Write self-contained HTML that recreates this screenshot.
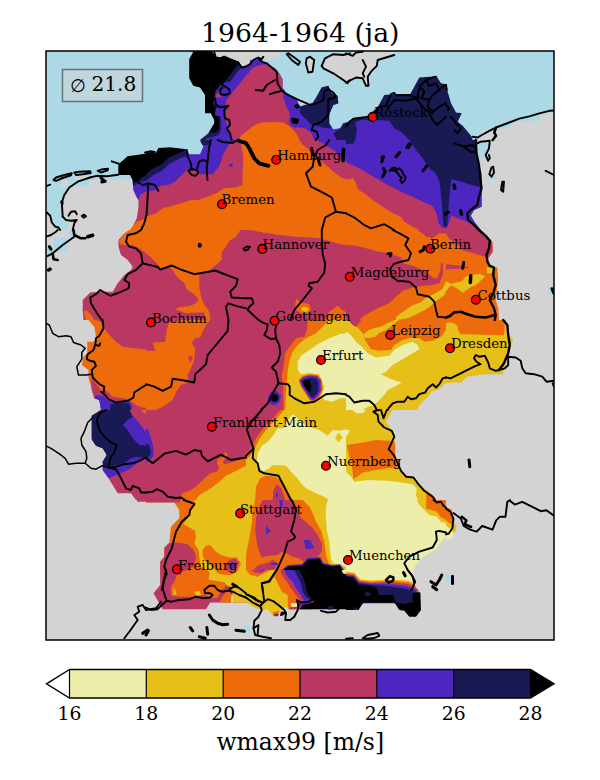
<!DOCTYPE html>
<html><head><meta charset="utf-8"><title>1964-1964 (ja)</title>
<style>
html,body{margin:0;padding:0;background:#fff;}
body{width:600px;height:780px;overflow:hidden;}
svg{display:block;}
text{font-family:"DejaVu Serif","Liberation Serif",serif;fill:#000;}
.b{fill:none;stroke:#000;stroke-width:1.9;stroke-linejoin:round;stroke-linecap:round;}
.c{fill:#f00;stroke:#000;stroke-width:1.3;}
.l{font-size:13.3px;}
</style></head><body>
<svg width="600" height="780" viewBox="0 0 600 780">
<rect width="600" height="780" fill="#fff"/>
<defs><clipPath id="fr"><rect x="46" y="51" width="508" height="589"/></clipPath>
<clipPath id="t0"><rect x="346" y="50" width="100" height="90"/></clipPath>
<clipPath id="t1"><rect x="446" y="50" width="108" height="90"/></clipPath>
<clipPath id="t2"><rect x="46" y="140" width="100" height="90"/></clipPath>
<clipPath id="t3"><rect x="146" y="140" width="100" height="90"/></clipPath>
<clipPath id="t4"><rect x="246" y="140" width="100" height="90"/></clipPath>
<clipPath id="t5"><rect x="346" y="140" width="100" height="90"/></clipPath>
<clipPath id="t6"><rect x="446" y="140" width="108" height="90"/></clipPath>
<clipPath id="t7"><rect x="46" y="230" width="100" height="90"/></clipPath>
<clipPath id="t8"><rect x="146" y="230" width="100" height="90"/></clipPath>
<clipPath id="t9"><rect x="246" y="230" width="100" height="90"/></clipPath>
<clipPath id="t10"><rect x="346" y="230" width="100" height="90"/></clipPath>
<clipPath id="t11"><rect x="446" y="230" width="108" height="90"/></clipPath>
<clipPath id="t12"><rect x="46" y="320" width="100" height="90"/></clipPath>
<clipPath id="t13"><rect x="146" y="320" width="100" height="90"/></clipPath>
<clipPath id="t14"><rect x="246" y="320" width="100" height="90"/></clipPath>
<clipPath id="t15"><rect x="346" y="320" width="100" height="90"/></clipPath>
<clipPath id="t16"><rect x="446" y="320" width="108" height="90"/></clipPath>
<clipPath id="t17"><rect x="46" y="410" width="100" height="90"/></clipPath>
<clipPath id="t18"><rect x="146" y="410" width="100" height="90"/></clipPath>
<clipPath id="t19"><rect x="246" y="410" width="100" height="90"/></clipPath>
<clipPath id="t20"><rect x="346" y="410" width="100" height="90"/></clipPath>
<clipPath id="t21"><rect x="446" y="410" width="108" height="90"/></clipPath>
<clipPath id="t22"><rect x="46" y="500" width="100" height="140"/></clipPath>
<clipPath id="t23"><rect x="146" y="500" width="100" height="90"/></clipPath>
<clipPath id="t24"><rect x="246" y="500" width="100" height="90"/></clipPath>
<clipPath id="t25"><rect x="346" y="500" width="100" height="90"/></clipPath>
<clipPath id="t26"><rect x="446" y="500" width="108" height="140"/></clipPath>
<clipPath id="t27"><rect x="0" y="0" width="0" height="0"/></clipPath>
<clipPath id="t28"><rect x="180" y="50" width="100" height="90"/></clipPath>
<clipPath id="t29"><rect x="250" y="50" width="100" height="90"/></clipPath>
<clipPath id="t30"><rect x="110" y="140" width="100" height="60"/></clipPath>
<clipPath id="t31"><rect x="146" y="575" width="100" height="65"/></clipPath>
<clipPath id="t32"><rect x="246" y="570" width="100" height="70"/></clipPath>
<clipPath id="t33"><rect x="346" y="570" width="100" height="70"/></clipPath>
<clipPath id="t34"><rect x="432" y="170" width="38" height="62"/></clipPath>
<clipPath id="t35"><rect x="428" y="228" width="34" height="24"/></clipPath>
<clipPath id="t36"><rect x="396" y="262" width="100" height="60"/></clipPath>
</defs>
<g clip-path="url(#fr)">
<rect x="46" y="51" width="508" height="589" fill="#add8e6"/>
<g clip-path="url(#t0)">
<rect x="345.7" y="49.7" width="100.6" height="90.6" fill="#add8e6"/>
<polygon fill="#d3d3d3" points="346,53.3 352.7,55.8 356,52.5 362.7,51.7 394.3,51.7 394.3,55 386,57.5 377.7,60 376.8,65.8 371,71.7 367.7,76.7 368.5,85.8 366,85.8 362.7,78.3 356,77.5 349.3,80.8 346,82.5"/>
<polygon fill="#191954" points="346,122.5 352.7,119.7 366,116.7 371,113.3 378.5,105.8 384.3,95 394.3,94.2 410.2,94.2 419.3,77.5 429.3,76.7 436.8,76.7 441,83.3 446,84.2 446,140 346,140"/>
<polygon fill="#4c26be" points="355.2,122 364.3,119.2 369.3,120.8 377.7,120 389.3,120.8 394.3,128.3 401,131.7 409.3,140 355.2,140 356.8,130"/>
</g>
<g clip-path="url(#t1)">
<rect x="445.7" y="49.7" width="108.6" height="90.6" fill="#add8e6"/>
<polygon fill="#191954" points="446,85 447.7,91.7 451,103.3 456,112.5 461.8,113.3 457.7,121.7 462.7,125.8 467.7,131.7 471.8,136.7 472.7,140 446,140"/>
<polygon fill="#d3d3d3" points="481.8,140 481.8,129.7 496,129.7 496,128.3 511,128.3 511,122 526,122 526,120.8 540.2,120.8 540.2,115.3 546,113.3 556,112 556,140"/>
</g>
<g clip-path="url(#t2)">
<rect x="45.7" y="139.7" width="100.6" height="90.6" fill="#add8e6"/>
<polygon fill="#d3d3d3" points="67.7,230 67.7,221.7 63.5,216.7 64,206.7 64,196.7 67.7,190 73.5,185.8 90.2,186.7 90.2,180 132.7,180 133.5,190 136.8,196.7 138.5,206.7 136.8,218.3 132.7,226.7 130.2,230"/>
<polygon fill="#d3d3d3" points="61,180.5 68.5,180.5 68.5,186.7 61,186.7"/>
<polygon fill="#d3d3d3" points="75.2,175.8 90.2,175.8 90.2,180 75.2,180"/>
<polygon fill="#d3d3d3" points="46,213.3 49.3,215 51.8,221.7 54.3,226.7 59.3,230 46,230"/>
<polygon fill="#ba3762" points="138.5,200 146,200 146,230 130.2,230 132.7,226.7 136.8,218.3 138.5,206.7"/>
<polygon fill="#ee6b0c" points="130.2,230 133.5,225 136.8,221.7 146,218.3 146,230"/>
</g>
<g clip-path="url(#t3)">
<rect x="145.7" y="139.7" width="100.6" height="90.6" fill="#ba3762"/>
<polygon fill="#ee6b0c" points="146,216.7 156,213.3 162.7,208.3 172.7,205.8 186,201.7 196,198.3 206,197.5 216,193.3 224.3,188.3 236,187.5 242.3,185 243.2,156.7 241.3,144.2 243.5,142.5 246,142.5 246,230 146,230"/>
<polygon fill="#4c26be" points="146,190.8 158.5,190 159.3,185.8 166,185.8 174.3,181.7 179.3,177.5 185.2,172.5 187.7,169.7 194.3,167.5 199.3,168.3 199.3,173.3 204.3,174.2 212.7,174.2 217.7,168.3 221.8,160 222.7,155 227.7,146.7 229.3,143.3 239.3,141.7 246,140 146,140"/>
<polygon fill="#4c26be" points="229,163.8 232.7,163.8 232.7,166.7 229,166.7"/>
<polygon fill="#191954" points="201,140 211,140 206,145.8 202.7,146.7"/>
</g>
<g clip-path="url(#t4)">
<rect x="245.7" y="139.7" width="100.6" height="90.6" fill="#ee6b0c"/>
<polygon fill="#ba3762" points="299.3,140 302.7,145 309.3,150 317.7,158.3 326,165 334.3,172.5 341,177.5 346,179.2 346,140"/>
<polygon fill="#4c26be" points="316,140 322.7,143.3 329.3,147.5 336,151.7 341,158.3 346,160.8 346,140"/>
</g>
<g clip-path="url(#t5)">
<rect x="345.7" y="139.7" width="100.6" height="90.6" fill="#4c26be"/>
<polygon fill="#191954" points="409.3,140 416,150 422.7,158.3 429.3,168.3 436,175 439.3,183.3 441,195 442.7,210 444.3,215 446,215.8 446,140"/>
<polygon fill="#191954" points="346,140 354.3,140 354.3,143.3 346,144.2"/>
<polygon fill="#ba3762" points="346,162.5 352.7,165 359.3,168.3 367.7,173.3 379.3,180 389.3,185.8 401,191.7 412.7,196.7 422.7,201.7 429.3,204.2 434.3,206.7 436,213.3 437.7,221.7 440.2,226.7 446,230 346,230"/>
<polygon fill="#ee6b0c" points="346,179.2 351,179.2 352.7,177.5 356,183.3 357.7,189.2 364.3,193.3 372.7,200 382.7,206.7 392.7,213.3 401,216.7 404.3,221.7 412.7,226.7 419.3,230 346,230"/>
</g>
<g clip-path="url(#t6)">
<rect x="445.7" y="139.7" width="108.6" height="90.6" fill="#d3d3d3"/>
<polygon fill="#191954" points="444,140 477.3,140 477.3,156.7 479,165 481.5,173.3 481.5,206.7 474,210 470.7,215.8 474.8,222.5 480.7,230 444,230"/>
<polygon fill="#4c26be" points="444,179.2 454,180 464,182.5 474,185.8 481.5,187.5 481.5,206.7 474,210 470.7,215.8 474.8,222.5 480.7,230 444,230"/>
<polygon fill="#ba3762" points="444,213.3 454,215.8 460.7,218.3 467.3,221.7 475.7,226.7 480.7,230 444,230"/>
<polygon fill="#add8e6" points="477.3,143.3 482.3,142.5 489.8,143.3 489.8,155.8 487.3,158.3 477.3,157.5"/>
<polygon fill="#add8e6" points="489.8,172.5 496.5,172.5 496.5,179.2 489.8,179.2"/>
</g>
<g clip-path="url(#t7)">
<rect x="45.7" y="229.7" width="100.6" height="90.6" fill="#d3d3d3"/>
<polygon fill="#add8e6" points="53.5,237.5 67.7,237.5 67.7,250.8 53.5,250.8"/>
<polygon fill="#add8e6" points="68.5,230 73.5,230 73.5,237.5 68.5,237.5"/>
<polygon fill="#add8e6" points="46,246.7 53.5,246.7 53.5,256.7 46,257.5"/>
<polygon fill="#ba3762" points="118.5,240 123.5,234.2 129.3,230 146,230 146,320 83.5,320 82.7,310 82.7,300 90.2,292.5 101,291.7 112.7,291.7 117.7,283.3 124.3,275 131,270 132.7,266.7 127.7,260 121,255 118.5,246.7"/>
<polygon fill="#ee6b0c" points="118.5,241.7 123.5,234.2 129.3,230 146,230 146,253.3 139.3,248.3 132.7,245 124.3,245 121,244.2"/>
<polygon fill="#ee6b0c" points="83.5,311.7 86,310 91,315 94.3,320 86,320"/>
</g>
<g clip-path="url(#t8)">
<rect x="145.7" y="229.7" width="100.6" height="90.6" fill="#ba3762"/>
<polygon fill="#ee6b0c" points="146,230 240.2,230 236,236.7 229.3,240.8 226,246.7 221.8,251.7 221.8,260 216,265 209.3,270.8 199.3,275 199.3,288.3 201,296.7 203.5,303.3 208.5,310 210.2,316.7 210.2,320 205.2,320 204.3,312.5 196,312.5 186,313.3 175.2,309.2 179.3,307 189.3,306.3 196,303.3 198.5,299.2 194.3,294.2 186.8,289.2 184.3,283.3 176.8,276.7 172.7,270 169.3,267.5 161,268.3 156,262.5 151,257.5 146,253.3"/>
</g>
<g clip-path="url(#t9)">
<rect x="245.7" y="229.7" width="100.6" height="90.6" fill="#ba3762"/>
<polygon fill="#ee6b0c" points="251,230 262.7,232.5 279.3,235 296,236.7 309.3,237.5 319.3,238.3 329.3,240.8 339.3,244.2 346,245 346,230"/>
<polygon fill="#ee6b0c" points="295.2,303.3 296.8,298.3 299.3,302.5 304.3,303 309.3,304.2 311,309.2 307.7,313.3 301,313.3 296,310"/>
<polygon fill="#e6bf19" points="301,307.5 306.8,306.7 309,309.7 306,312 301.8,310.8"/>
<polygon fill="#ee6b0c" points="329.3,311.7 337.7,305.8 341.8,310 346,311.7 346,320 324.3,320"/>
</g>
<g clip-path="url(#t10)">
<rect x="345.7" y="229.7" width="100.6" height="90.6" fill="#ee6b0c"/>
<polygon fill="#ba3762" points="346,245 356,245.8 366,248.3 379.3,251.7 389.3,253.3 401,257.5 403.5,263.3 412.7,265.8 424.3,270.8 432.7,277.5 436.8,278.3 440.2,271.7 441,263.3 443,263.3 442.7,275 439.3,283.3 432.7,285 422.7,285.8 412.7,287.5 402.7,290.8 396,296.7 389.3,303.3 379.3,307.5 371,311.7 362.7,316.7 359.3,320 346,320"/>
<polygon fill="#ba3762" points="417.7,230 424.3,235 431,240 439.3,241.7 446,240 446,230"/>
</g>
<g clip-path="url(#t11)">
<rect x="445.7" y="229.7" width="108.6" height="90.6" fill="#d3d3d3"/>
<polygon fill="#ee6b0c" points="444,230 479,230 485.7,235 492.3,241.7 492.7,251.7 488.2,258.3 489.8,265.8 497.3,267.5 498.2,280 495.7,300 498.2,308.3 499,320 444,320"/>
<polygon fill="#ba3762" points="444,230 479,230 485.7,235 492.3,241.7 492.7,251.7 488.2,258.3 485.7,256.7 479,255 470.7,252.5 460.7,250 454,249.2 444,248.3"/>
<polygon fill="#ba3762" points="444,264.2 454,265 464,266.3 469.8,267.5 460.7,268.7 444,269.2"/>
<polygon fill="#e6bf19" points="486.5,267.5 495.7,267.5 493.2,272.5 487.3,273.7"/>
<polygon fill="#add8e6" points="548.2,286.7 554,286.7 554,295 548.2,295"/>
</g>
<g clip-path="url(#t12)">
<rect x="45.7" y="319.7" width="100.6" height="90.6" fill="#d3d3d3"/>
<polygon fill="#ee6b0c" points="88.5,320 94.3,326.7 96,336.7 94.3,341.7 87.3,341.7 87.3,353.3 83.5,356.7 81.8,365 88.5,370 88.5,377.5 91,386.7 92.7,393.3 94.3,398.3 99.3,400 101,406.7 101,410 146,410 146,320"/>
<polygon fill="#ba3762" points="96,320 100.2,321.7 103.5,326.7 109.3,335 116,341.7 122.7,346.7 132.7,348.3 146,349.2 146,320"/>
<polygon fill="#ba3762" points="91,378.3 94.3,381.7 101,390 106.8,390.8 112.7,396.7 122.7,398.3 129.3,400 136,405 142.7,407.5 146,407.5 146,410 101,410 99.3,400 94.3,398.3 91.8,390"/>
<polygon fill="#4c26be" points="94.3,398.3 96,395 102.7,395.8 107.7,400 112.7,401.7 129.3,401.7 132.7,406.7 131,410 101,410 99.3,400"/>
<polygon fill="#191954" points="110.2,410 110.2,405 114.3,403.3 129.3,403.3 131,410"/>
</g>
<g clip-path="url(#t13)">
<rect x="145.7" y="319.7" width="100.6" height="90.6" fill="#ba3762"/>
<polygon fill="#ee6b0c" points="146,350.8 155.2,350.8 152.7,342.5 165.2,341.7 166.8,330 168.5,323.3 181,320 210.2,320 206,325 202.7,331.7 200.2,337.5 195.2,338.3 191.8,342.5 195.2,349.2 194.3,360 189.3,371.7 187.7,375 187.7,382.5 181,385 176,391.7 172.7,400 162.7,406.7 156,410 146,410"/>
<polygon fill="#ba3762" points="188.5,355.8 192.7,356.3 192.3,360 190.2,361.7 188.5,359.2"/>
</g>
<g clip-path="url(#t14)">
<rect x="245.7" y="319.7" width="100.6" height="90.6" fill="#ba3762"/>
<polygon fill="#ee6b0c" points="307.7,320 306.8,330 304.3,336.7 296,338.3 291,345 285.2,353.3 283.5,366.7 281.8,375 283,386.7 283.5,410 346,410 346,320"/>
<polygon fill="#e6bf19" points="329.3,320 322.7,326.7 316,333.3 306,338.3 297.7,345 292.7,351.7 289.7,360 287.7,370 286.8,383.3 286,393.3 285.2,410 346,410 346,320"/>
<polygon fill="#eeeeab" points="346,333.3 339.3,334.2 329.3,338.3 319.3,343.3 309.3,350 301,355.8 297.7,361.7 297.7,370 301,374.2 309.3,373 319.3,374.2 321.8,380.8 324.3,386.7 321.8,395 324.3,400 332.7,401.7 339.3,398.3 346,398.3"/>
<polygon fill="#ee6b0c" points="298.5,380 302.7,375.8 309.3,374.2 317.7,375 321.8,380 322.7,390 319.3,396.7 314.3,401.7 310.2,400.8 305.2,393.3 301,386.7"/>
<polygon fill="#ba3762" points="299.3,380.3 303,376.7 309.3,375 317.3,375.8 321,380.3 321.7,390 318.5,396.3 314,400.7 310.2,399.7 305.7,392.7 301.3,386.3"/>
<polygon fill="#4c26be" points="300.2,380.8 303.5,377.5 309.3,375.8 316.8,376.7 320.2,380.8 320.7,390 317.7,395.8 313.5,399.7 310.2,398.3 306,391.7 301.8,385.8"/>
<polygon fill="#191954" points="301.8,381.3 304.3,379.2 310.2,378 316,378.7 318,382.5 318.5,390 316,395 312.7,398 310.2,395.8 306.8,390 303.5,385"/>
<polygon fill="#000000" points="302,381.3 309.3,379.7 311.3,386.7 310.2,392.5 306.8,389.7 304,385.3"/>
<polygon fill="#4c26be" points="267.7,397.5 271,391.7 276.8,390.8 281,395.8 279.3,402.5 275.2,405.3 270.2,404.2"/>
<polygon fill="#191954" points="270.2,397.5 272.7,394.2 276.8,393.3 279,396.7 277.7,401.3 273.5,402.5 271,400.8"/>
<polygon fill="#000000" points="271,397.7 275.2,394.3 278.3,397 277.3,400.7 273.2,401.7"/>
</g>
<g clip-path="url(#t15)">
<rect x="345.7" y="319.7" width="100.6" height="90.6" fill="#e6bf19"/>
<polygon fill="#eeeeab" points="346,331.7 351,335 356,341.7 362.7,347.5 367.7,353.3 376,357.5 389.3,355.8 394.3,350 402.7,345 412.7,341.7 417.7,345 419.3,349.2 412.7,353.3 404.3,358.3 392.7,365 386,371.7 381,374.2 389.3,378.3 396,380.8 401.8,382.5 394.3,386.7 387.7,390 384.3,395 379.3,400 374.3,405 367.7,406.7 362.7,410 346,410"/>
<polygon fill="#ee6b0c" points="349.3,320 352.7,325 357.7,327.5 362.7,333.3 366,341.7 371,349.2 379.3,350.8 391,350 394.3,345 402.7,340 412.7,337.5 419.3,338.3 424.3,341.7 432.7,340.8 441,336.7 446,330 446,320"/>
<polygon fill="#e6bf19" points="363.5,334.2 367.7,330.8 373.5,328.3 381,326.7 387.7,323.3 394.3,320 399.3,320 392.7,325 386,330 379.3,333 375.2,336.7 369.3,338.3 364.3,337.5"/>
<polygon fill="#ba3762" points="348.5,320 352.7,325 356,326.7 360.2,321.7 361,320"/>
<polygon fill="#d3d3d3" points="446,382.5 439.3,389.2 431,391.7 428.5,396.7 424.3,400 419.3,405.8 416.8,410 446,410"/>
</g>
<g clip-path="url(#t16)">
<rect x="445.7" y="319.7" width="108.6" height="90.6" fill="#d3d3d3"/>
<polygon fill="#e6bf19" points="444,320 505.7,320 506.5,330 509.8,335.8 513.2,340.8 509.8,346.7 507.3,358.3 504,368.3 503.2,374.2 484,374.2 475.7,375.8 466.5,376.7 461.5,382.5 454,382.5 444,383.3"/>
<polygon fill="#ee6b0c" points="446,320 446,323.3 449,322.5 454,323 457.3,325.8 458.2,330 460.7,334.2 470.7,334.2 487.3,335 504,335.3 504.8,326.7 504,320"/>
</g>
<g clip-path="url(#t17)">
<rect x="45.7" y="409.7" width="100.6" height="90.6" fill="#d3d3d3"/>
<polygon fill="#ba3762" points="101,410 96,413.3 91.8,415.8 91.8,439.2 96,445.8 102.7,448.3 106.8,455 102.7,461.7 102.7,470 108.5,478.3 117.7,493.3 131,493.3 136,500 146,500 146,410"/>
<polygon fill="#4c26be" points="101,410 91.8,415.8 91.8,439.2 96,445.8 102.7,448.3 106.8,455 102.7,461.7 102.7,470 108.5,478.3 121,473.3 129.3,469.2 139.3,461.7 146,458.3 146,431.7 141.8,426.7 136.8,420 131.8,415 129.3,410"/>
<polygon fill="#191954" points="101,410 91.8,415.8 91.8,439.2 96,445.8 102.7,448.3 106.8,455 102.7,461.7 103.5,465.8 112.7,465.8 124.3,463.3 131,458.3 136,456.7 146,458.3 146,445.8 139.3,445 132.7,438.3 127.7,430 122.7,425 127.7,420 132.7,416.7 129.3,410"/>
<polygon fill="#ee6b0c" points="141,410 146,410 146,413.3 143.5,412.5"/>
</g>
<g clip-path="url(#t18)">
<rect x="145.7" y="409.7" width="100.6" height="90.6" fill="#ba3762"/>
<polygon fill="#4c26be" points="146,428.3 148.5,430 151,438.3 153.5,448.3 153.5,456.7 149.3,460.8 146,461.7"/>
<polygon fill="#191954" points="146,443.3 149.3,445.8 151,452.5 148.5,457.5 146,458.3"/>
<polygon fill="#ee6b0c" points="181,500 181.8,493.3 189.3,490.8 196,486.7 202.7,480 210.2,473.3 216.8,471.7 219.3,467.5 216.8,463.3 217.7,459.2 223.5,456.7 225.2,451.7 227.7,454.2 226,458.3 222.7,461.7 224.3,464.2 231,462.5 239.3,460 246,457.5 246,500"/>
<polygon fill="#e6bf19" points="196,500 199.3,495 209.3,489.2 217.7,483.3 226,475.8 232.7,472.5 239.3,469.2 246,465.8 246,500"/>
</g>
<g clip-path="url(#t19)">
<rect x="245.7" y="409.7" width="100.6" height="90.6" fill="#e6bf19"/>
<polygon fill="#eeeeab" points="346,429.2 339.3,430.8 332.7,430 327.7,435.8 319.3,430 312.7,428.3 306,425.8 296,416.7 292.7,414.2 287.7,420 283.5,428.3 277.7,428.3 273.5,435 267.7,441.7 261.8,445.8 257.7,453.3 256.8,460 258.5,466.7 262.7,471.7 269.3,468.3 272.7,465 286,465.8 291,471.7 296,476.7 301,483.3 306,488.3 316,493.3 324.3,496.7 329.3,500 346,500"/>
<polygon fill="#e6bf19" points="335.2,437.5 338.5,432.5 342.7,437.5 338.5,442.5"/>
<polygon fill="#ee6b0c" points="246,410 284,410 277.7,417.5 271,424.2 265.2,430.8 259.3,439.2 255.2,447.5 251,455 246,460"/>
<polygon fill="#ba3762" points="246,410 280.2,410 274.3,416.7 267.7,423.3 261.8,430 256,438.3 252.7,445.8 246,455"/>
<polygon fill="#ee6b0c" points="255.2,500 256,486.7 260.2,478.3 266,475.8 275.2,476.7 281.8,481.7 286,490 290.2,500"/>
<polygon fill="#ba3762" points="272.7,500 273.5,490 276.8,484.2 281,488.3 283.5,495 285.2,500"/>
<polygon fill="#4c26be" points="276,493 277.7,493 277.7,497.5 276,497.5"/>
</g>
<g clip-path="url(#t20)">
<rect x="345.7" y="409.7" width="100.6" height="90.6" fill="#d3d3d3"/>
<polygon fill="#e6bf19" points="346,410 392.7,410 386,421.7 394.3,433.3 395.2,460 401,471.7 412.7,477.5 417.7,483.3 432.7,495 434.3,500 346,500"/>
<polygon fill="#eeeeab" points="346,429.2 350.2,430.8 346,436.7"/>
<polygon fill="#eeeeab" points="352.7,410 366,410 362.7,413.3 356,413.3"/>
<polygon fill="#eeeeab" points="346,471.7 351,476.7 354.3,481.7 367.7,480 387.7,480.8 401,482.5 412.7,484.2 416.8,488.3 416,495 417.7,500 346,500"/>
<polygon fill="#ee6b0c" points="346.8,445 362.7,442.5 376,440 389.3,440.8 395.2,442.5 395.2,460 398.5,467.5 387.7,468.3 376,470 362.7,472.5 353.5,479.2 351.8,465 348.5,453.3"/>
<polygon fill="#ee6b0c" points="426.2,497.5 426,493 432.5,495 436,500.5 426.2,500.5"/>
</g>
<g clip-path="url(#t21)">
<rect x="445.7" y="409.7" width="108.6" height="90.6" fill="#d3d3d3"/>
</g>
<g clip-path="url(#t22)">
<rect x="45.7" y="499.7" width="100.6" height="140.6" fill="#d3d3d3"/>
<polygon fill="#ba3762" points="137,500 146,500 146,501.7 137,501.7"/>
</g>
<g clip-path="url(#t23)">
<rect x="145.7" y="499.7" width="100.6" height="90.6" fill="#d3d3d3"/>
<polygon fill="#e6bf19" points="146,502.5 174.3,502.5 179.3,510 179.3,518.3 171,526.7 169.3,543.3 164.3,547.5 164.3,556.7 160.2,561.7 160.2,590 246,590 246,500 146,500"/>
<polygon fill="#ee6b0c" points="174.3,502.5 179.3,500 194.3,500 196,504.2 190.2,511.7 187.7,518.3 183.5,524.2 189.3,527.5 195.2,530.8 196,537.5 194.3,543.3 198.5,550 199.3,556.7 201,566.7 209.3,571.7 210.2,580 207.7,590 160.2,590 160.2,561.7 164.3,556.7 164.3,547.5 169.3,543.3 171,526.7 179.3,518.3 179.3,510"/>
<polygon fill="#ee6b0c" points="202.7,550 206,545.8 210.2,545 216,551.7 221,555 229.3,557.5 236.8,557.5 241,563.3 237.7,570.8 231.8,574.7 224.3,575 217.7,573.3 212.7,566.7 206,561.7 202.7,556.7"/>
<polygon fill="#ee6b0c" points="212.7,583.3 219.3,580 227.7,580.8 232.7,584.2 236,590 209.3,590"/>
<polygon fill="#ba3762" points="164.3,548.3 168.5,543.3 179.3,542.5 187.7,544.2 193.7,550 196.2,557.5 193.7,566.2 187.5,570 182.5,571.2 180,576.2 173.7,585 171.8,590 160.2,590 160.2,561.7 164.3,556.7"/>
<polygon fill="#ba3762" points="226,564.2 229.3,560 235.2,558.3 238.5,562.5 236.8,568.3 232.7,572.5 227.7,571.7 225.7,567.5"/>
<polygon fill="#4c26be" points="229,564.2 232.7,561.7 236,563.3 234.3,568.3 230.2,569.2"/>
<polygon fill="#ba3762" points="214.3,590 217.7,585 224.3,584.2 227.7,590"/>
<polygon fill="#ba3762" points="146,500 181,500 179.3,502.5 146,502.5"/>
</g>
<g clip-path="url(#t24)">
<rect x="245.7" y="499.7" width="100.6" height="90.6" fill="#e6bf19"/>
<polygon fill="#eeeeab" points="327.7,500 326,506.7 325.7,516.7 326.8,530 329.3,541.7 330.2,551.7 331,560 333.5,563.3 339.3,564.2 346,566.7 346,500"/>
<polygon fill="#ee6b0c" points="255.2,500 252.7,510 251.8,523.3 249.3,538.3 246.8,550 246,556.7 246,570 251,573.3 257.7,576.7 264.3,578.3 271,575 275.2,571.7 277.7,573.3 279.3,583.3 281,590 296,590 294.3,578.3 301,573.3 304.3,566.7 309.3,563.3 319.3,562.5 324.3,566.7 329.3,565 326,555 324.3,541.7 321,530 316,521.7 312.7,513.3 309.3,506.7 302.7,500"/>
<polygon fill="#ba3762" points="262.7,500 259.3,506.7 256,518.3 255.2,530 256.8,543.3 259.3,551.7 261.8,557.5 269.3,555.8 277.7,555 281.8,551.7 286,553.3 292.7,556.7 299.3,558.3 303.5,561.7 307.7,557.5 317.7,556.7 321.8,551.7 321.8,543.3 317.7,535 312.7,528.3 306,521.7 301,518.3 297.7,510 292.7,500"/>
<polygon fill="#ba3762" points="254.3,568.3 258.5,565 266,563.3 272.7,560 277.7,562.5 276.8,566.7 271,571.7 264.3,574.2 256.8,573.3"/>
<polygon fill="#ba3762" points="279.3,573.3 281.8,570 286,574.2 291,580 296,590 287.7,590 281.8,581.7"/>
<polygon fill="#4c26be" points="266,525.8 271,531.7 266,534.2"/>
<polygon fill="#4c26be" points="303.5,540 310.2,540 314.3,548.3 306,549.2"/>
<polygon fill="#4c26be" points="279.3,500 282.7,500 282.7,507.5 280.2,506.7"/>
<polygon fill="#4c26be" points="271,563 277.7,563 277.7,565 271,565"/>
<polygon fill="#4c26be" points="260.2,570.8 266.8,570 266.8,572 261,572.5"/>
<polygon fill="#4c26be" points="281.8,570 287.7,565 301.8,564.2 307.7,557.5 320.2,557.2 323.5,563.3 332.7,565 340.2,564.2 344.3,570 346,571.7 346,590 296,590 293.5,581.7 287.7,576.7 282.7,573.3"/>
<polygon fill="#191954" points="283.5,569.7 288.5,566 302.3,565.2 308,558.8 319.7,558.3 322.7,563.8 332.7,566 339.7,565.2 343.5,570.8 346,573.3 346,590 299.3,590 297.7,580 288.5,575.3 284,572.5"/>
<polygon fill="#000000" points="285.2,568.3 289.3,566.7 302.7,565.8 308.5,560 319.3,559.2 321.8,564.2 324.3,565.8 332.7,566.7 339.3,565.8 342.7,571.7 346,574.2 346,590 305.2,590 304.3,581.7 297.7,575.8 289.3,574.2 285.2,571.7"/>
</g>
<g clip-path="url(#t25)">
<rect x="345.7" y="499.7" width="100.6" height="90.6" fill="#eeeeab"/>
<polygon fill="#d3d3d3" points="446,535.8 441,541.7 436.8,548.3 429.3,553.3 421,558.3 416,565 412.7,571.7 414.3,578.3 416,590 446,590"/>
<polygon fill="#e6bf19" points="416.8,500 419.3,505 424.3,510 429.3,515 436.8,516.7 441,521.7 446,523.3 446,500"/>
<polygon fill="#ee6b0c" points="426.2,500 426.2,508.7 436.2,511.2 441.2,517.5 446,520 446,500"/>
<polygon fill="#e6bf19" points="346,571.7 354.3,573.3 360.2,580 371,581.7 384.3,580.8 396,580 409.3,580.8 414.3,583.3 416,590 346,590"/>
<polygon fill="#ee6b0c" points="346,572.8 354,574.3 359.7,581 371,582.7 384.3,582 396,581.3 408.5,582 413.5,584.7 415.2,590 346,590"/>
<polygon fill="#ba3762" points="346,573.7 353.7,575.2 359.3,581.8 371,583.5 384.3,583 396,582.5 407.7,583.3 412.7,585.8 414.3,590 346,590"/>
<polygon fill="#4c26be" points="346,574.5 353.5,575.8 359,582.7 371,584.3 384.3,584.2 396,584.2 406.8,585 411.8,587.5 412.7,590 346,590"/>
<polygon fill="#191954" points="346,575.3 353.3,576.3 358.7,583.3 370.2,585 384.3,585.8 396,586.3 406,587.5 410.2,590 346,590"/>
<polygon fill="#000000" points="346,576.2 353,577 358,584.2 369.3,585.8 379.3,588.3 381,590 346,590"/>
</g>
<g clip-path="url(#t26)">
<rect x="445.7" y="499.7" width="108.6" height="140.6" fill="#d3d3d3"/>
<polygon fill="#ee6b0c" points="446,507.4 451.6,509.3 453.4,518.6 452.5,527.9 446,524.2"/>
<polygon fill="#e6bf19" points="446,520.4 450.6,524.2 456.2,524.2 456.2,530.7 451.6,535.3 446,535.3"/>
<polygon fill="#eeeeab" points="446,526 449.7,527.9 453.4,532.5 451.6,539 446,540"/>
<polygon fill="#add8e6" points="446,575.3 451.6,575.3 451.6,581.8 446,581.8"/>
</g>
<g clip-path="url(#t27)">
<rect x="-0.3" y="-0.3" width="0.6" height="0.6" fill="#add8e6"/>
</g>
<g clip-path="url(#t28)">
<rect x="179.7" y="49.7" width="100.6" height="90.6" fill="#ba3762"/>
<polygon fill="#ee6b0c" points="241.7,135 248.3,130 256.7,125 263.3,122.5 270,122.5 280,124.2 280,140 238.3,140"/>
<polygon fill="#4c26be" points="252.5,60.3 263.3,65.8 253.3,68.3 246.7,75 235,89.2 231.7,93.3 226.7,100 225,106.7 225,116.7 228.3,130 230,136.7 231.7,140 196.7,140 196.7,50 252.5,50"/>
<polygon fill="#ba3762" points="215.8,93.7 221.7,93.7 221.7,97.5 215.8,97.5"/>
<polygon fill="#191954" points="239.2,63 242,66.7 237.5,71.7 230,81.7 224.2,82.8 220.8,85.8 217.5,90 196.7,90 196.7,50 239.2,50"/>
<polygon fill="#191954" points="213.3,103.7 220,105 220,108 214.2,108"/>
<polygon fill="#191954" points="215.3,115.8 220.8,116.7 220.8,130 218.3,135 213.3,136.7 206.7,138.3 205,140 196.7,140 196.7,115.8"/>
<polygon fill="#000000" points="193.3,51.7 212.5,51.7 215.8,57.5 224.2,56.7 230,59.2 238.3,62.5 235,65.8 225,78.3 220,84.2 215.8,90.8 214.2,98.3 213.3,105 215.8,107.5 215,115 219.2,116.7 219.2,128.3 215.8,132.5 209.2,132.5 196.7,140 180,140 180,50"/>
<polygon fill="#add8e6" points="180,50 193.3,51.7 189.2,59.2 189.2,78.3 193.3,85.8 200,87.5 205,95 205,113.3 210.8,113.3 214.2,120 214.2,123.3 208.3,133.3 200,140 180,140"/>
<polygon fill="#d3d3d3" points="212.5,51.7 215.8,57.5 224.2,56.7 230,59.2 238.3,62.5 242.5,66.7 248.3,64.2 251.7,60.3 258.3,57.5 263.3,55 265,51.7 265,50 212.5,50"/>
</g>
<g clip-path="url(#t29)">
<rect x="249.7" y="49.7" width="100.6" height="90.6" fill="#add8e6"/>
<polygon fill="#d3d3d3" points="250,50 280.8,50 279.2,58.3 275,60 268.3,60.8 263.3,57.5 258.3,57.5 251.7,60.3 250,60.3"/>
<polygon fill="#4c26be" points="250,60 255,60 260,58.3 263.3,62.5 268.3,65 275,68.3 279.2,73.3 282.5,79.2 282.5,87.5 286.7,93.3 296.7,99.2 300,106.7 305,105 312.5,103.3 315.8,98.3 321.7,87.5 328.3,85.8 331.7,93.3 337.5,95.8 338.3,103.3 333.3,105 329.2,114.2 329.2,123.3 333.3,129.2 340,128.3 343.3,123.3 350,121.7 350,140 250,140"/>
<polygon fill="#ba3762" points="250,70 255,66.7 263.3,64.2 268.3,65 275,68.3 279.2,73.3 282.5,79.2 282.5,88.3 283.3,96.7 285.8,105 289.2,111.7 290,116.7 288.7,120.8 290,125 294.2,127.5 300,127.5 305,128.3 311.7,133.3 314.2,140 250,140"/>
<polygon fill="#ee6b0c" points="250,128.3 255,125 261.7,122.5 271.7,122 283.3,122.5 290,126.7 295,131.7 298.3,136.7 299.2,140 250,140"/>
<polygon fill="#191954" points="300,106.7 305,105 312.5,103.3 315.8,98.3 321.7,87.5 328.3,85.8 331.7,93.3 337.5,95.8 338.3,103.3 333.3,105 329.2,114.2 329.2,123.3 331.7,128.3 325,128.3 316.7,125.8 311.7,125 306.7,120 300,113.3"/>
<polygon fill="#191954" points="340.8,128.3 343.3,123.3 350,121.7 350,140 336.7,140 333.3,133.3"/>
<polygon fill="#d3d3d3" points="296.7,99.2 307.5,104.2 300,104.2"/>
<polygon fill="#d3d3d3" points="305.8,63.3 308.3,72.5 312.5,71.7 314.2,60 310,56.7 306.7,58.3"/>
<polygon fill="#d3d3d3" points="321.7,65.8 325,58.3 333.3,54.2 343.3,55 350,53.3 350,80 347.5,83.3 343.3,80 333.3,73.3 323.3,68.3"/>
</g>
<g clip-path="url(#t30)">
<rect x="109.7" y="139.7" width="100.6" height="60.6" fill="#add8e6"/>
<polygon fill="#ba3762" points="118.3,164.2 122.5,160.8 127.5,156.3 145,153.7 155.8,153 158.3,148 170,147.2 183.3,148.7 187,149.7 189.2,154.2 200,154.2 203.3,146.7 200.8,142.5 200,140 210,140 210,200 138.3,200 136.7,197.5 133.3,190 132.5,180 130,175 118.3,175"/>
<polygon fill="#ee6b0c" points="198.3,200 203.3,198 210,195.8 210,200"/>
<polygon fill="#4c26be" points="140,195 145,191.7 156.7,190 160,185.8 168.3,185 175,181.7 181.7,175 186.7,170 191.7,168.7 197.5,169.7 200,174.2 210,174.2 210,140 110,140 110,200 138.3,200"/>
<polygon fill="#191954" points="134.2,185.8 140,181.7 146.7,180.8 153.3,175 161.7,170.8 170,163.3 180,158.3 185.8,156.3 188.3,151.7 187,149.7 110,140 110,185.8"/>
<polygon fill="#191954" points="200.8,140 210,140 210,145 203.3,145 201.3,142.5"/>
<polygon fill="#000000" points="118.3,164.2 122.5,160.8 127.5,156.3 145,153.7 155.8,153 158.3,148 170,147.2 183.3,148.7 187,149.7 178.3,153.3 168.3,158 161.7,164.2 151.7,169.2 145,175.8 138.3,180 133.3,183 130,175 118.3,175"/>
<polygon fill="#add8e6" points="110,140 200,140 200.8,142.5 203.3,146.7 200,154.2 189.2,154.2 187,149.7 183.3,148.7 170,147.2 158.3,148 155.8,153 145,153.7 127.5,156.3 122.5,160.8 118.3,164.2 118.3,175 130,175 132.5,180 110,180"/>
<polygon fill="#d3d3d3" points="110,180 132.5,180 133.3,190 136.7,197.5 138.3,200 110,200"/>
<polygon fill="#d3d3d3" points="145,152.5 150,151.3 154.7,152 150,153.7"/>
</g>
<g clip-path="url(#t31)">
<rect x="145.7" y="574.7" width="100.6" height="65.6" fill="#d3d3d3"/>
<polygon fill="#ba3762" points="160.2,570 160.2,585 153.5,593.3 162.7,609.2 206,609.2 210.2,602.5 246,602.5 246,570"/>
<polygon fill="#ee6b0c" points="177.7,570 209.3,570 208.5,580 214.3,580.8 224.3,582.5 226,585.8 220.2,591.7 217.7,597.5 212.7,598.3 204.3,595 196,597.5 189.3,596.7 179.3,596.7 171,595.8 171,586.7 175.2,580"/>
<polygon fill="#ee6b0c" points="219.3,602.5 222.7,596.7 227.7,590 229.3,586.7 232.7,602.5"/>
<polygon fill="#e6bf19" points="209.3,570 208.5,580 214.3,580.8 224.3,582.5 226.8,585.8 231,586.7 232.7,595 231,602.5 246,602.5 246,570"/>
<polygon fill="#e6bf19" points="173.5,586.7 176.8,594.2 173.5,595"/>
<polygon fill="#e6bf19" points="194.3,591.7 199.3,590.8 201,595 196,595.8"/>
<polygon fill="#eeeeab" points="231.3,595 232.7,595 232.7,602.5 231.3,602.5"/>
<polygon fill="#add8e6" points="241.8,626.7 246,626.7 246,631.7 241.8,631.7"/>
</g>
<g clip-path="url(#t32)">
<rect x="245.7" y="569.7" width="100.6" height="70.6" fill="#d3d3d3"/>
<polygon fill="#e6bf19" points="246,570 346,570 346,609.2 288.5,609.2 286,606.7 279.3,611.7 276.8,615.8 272.7,615.8 267.7,609.2 262.7,610 256,608.3 246,602.5"/>
<polygon fill="#ee6b0c" points="246,570 250.2,575 257.7,576.7 264.3,573.3 271,570"/>
<polygon fill="#ba3762" points="251,570 254.3,572.5 261,573.3 266,570"/>
<polygon fill="#4c26be" points="259.3,570 262.7,571.3 265.2,570"/>
<polygon fill="#ee6b0c" points="276.8,570 274.3,576.7 277.7,583.3 281.8,591.7 287.7,595 287.7,603.3 288.5,609.2 312.7,609.2 312.7,570"/>
<polygon fill="#ba3762" points="280.2,570 281.8,575 286.8,581.7 291,588.3 296,595 301,601.7 294.3,603.3 291,605.8 289.3,609.2 312.7,609.2 312.7,570"/>
<polygon fill="#4c26be" points="284.3,570 287.7,576.7 292.7,581.7 296,588.3 301,595 304.3,600.8 297.7,601.7 296,605.8 302.7,605.8 312.7,601.7 312.7,570"/>
<polygon fill="#191954" points="294.3,570 297.7,576.7 301,583.3 302.7,591.7 306,596.7 310.2,600 314.3,600.8 314.3,570"/>
<polygon fill="#000000" points="299.3,570 302.7,576.7 305.2,583.3 306.8,591.7 310.2,597.5 314.3,600 312.7,602.5 302.7,605 299.3,609.2 346,609.2 346,570"/>
<polygon fill="#191954" points="327.7,606.7 332.7,605.8 333.5,609.2 328.5,609.7"/>
<polygon fill="#eeeeab" points="341.8,570 346,570 346,574.2 342.7,573.3"/>
<polygon fill="#ee6b0c" points="272.7,612.5 279.3,610.8 278.5,615.8 273.5,616.3"/>
<polygon fill="#4c26be" points="274.3,614.2 278.5,613.7 277.7,616.3 274.7,616.3"/>
<polygon fill="#eeeeab" points="291,603.3 297.7,603.3 296.8,606.7 291.3,607"/>
<polygon fill="#add8e6" points="246,625.8 249.7,625.8 249.7,633 246,633"/>
</g>
<g clip-path="url(#t33)">
<rect x="345.7" y="569.7" width="100.6" height="70.6" fill="#d3d3d3"/>
<polygon fill="#eeeeab" points="346,570 411,570 414.3,576.7 416,585 346,585"/>
<polygon fill="#e6bf19" points="346,571.7 354.3,572.5 360.2,579.2 371,580.3 384.3,579.7 396,579.7 409.3,580.8 414.3,583.3 416,588.3 346,603.3"/>
<polygon fill="#ee6b0c" points="346,573 354,573.7 359.7,580.3 371,581.7 384.3,581 396,581 408.5,582.3 414,585 417.7,589.2 346,603.3"/>
<polygon fill="#ba3762" points="346,574 353.7,574.7 359.3,581.3 371,582.7 384.3,582.3 396,582.7 407.7,584 413.5,586.7 418.8,590.3 346,603.3"/>
<polygon fill="#4c26be" points="346,575 353.5,575.7 359,582.3 371,583.7 384.3,583.7 396,584.7 406.8,586 412.7,588.7 419.7,591.3 346,603.3"/>
<polygon fill="#191954" points="346,576 353.3,576.7 358.7,583.3 370.2,584.7 384.3,585.8 396,587.2 406,588.7 411.8,591.3 420.2,592.5 420.2,603.3 346,603.3"/>
<polygon fill="#000000" points="346,576.7 353,577.3 358,584.7 369.3,586 376.8,588 378.5,595 392.7,595 396,602.5 404.3,603.3 412.7,602.5 412.7,593.3 420.2,592.5 421,610 416,616.7 409.3,616.7 404.3,610.8 399.3,610 394.3,602.5 363.5,602.5 358.5,610 346,610"/>
<polygon fill="#191954" points="363.5,593.3 367.7,591.7 371.8,594.2 367.7,596.7"/>
<polygon fill="#191954" points="353.5,607.5 356.8,607.5 357.7,610 353.5,610"/>
</g>
<g clip-path="url(#t34)">
<rect x="431.7" y="169.7" width="38.6" height="62.6" fill="#4c26be"/>
<polygon fill="#191954" points="432,170 436,174 439.3,180.7 441.3,196.7 442.7,214 443.3,225 445.5,227 447.3,225 448,214 448.7,203.3 450,190 451.3,179.3 460,181.3 470.7,184.7 480,186.7 480,170"/>
<polygon fill="#ba3762" points="432,205.5 433.3,207.3 436.7,214 438.7,223.3 443.3,229.3 446.7,228.7 448.7,223.3 451.3,215.3 460,219.3 466.7,221.3 472,225 472,234 432,234"/>
</g>
<g clip-path="url(#t35)">
<rect x="427.7" y="227.7" width="34.6" height="24.6" fill="#ee6b0c"/>
<polygon fill="#ba3762" points="428,228 428,236 431,238.5 436,236 439,233.2 446,233.6 449,238.5 457,244.5 462,247 462,228"/>
</g>
<g clip-path="url(#t36)">
<polygon fill="#e6bf19" points="396,317 402.7,312 411,306.2 421,302 426,297.8 434.3,293.7 442.7,288.7 446,281.2 451,283.7 461.8,281.2 466,276.2 479.3,273.7 485.2,276.2 477.7,283.7 471,287 462.7,292.8 457.7,288.7 451,285.3 446,291.2 444.3,295.3 436,301.2 429.3,307 424.3,310.3 416,314.5 409.3,317.8 401,319.5 396,320.3"/>
</g>
<polyline class="b" points="346,53.3 352.7,55.8 356,52.5 362.7,51.7"/>
<polyline class="b" points="394.3,55 386,57.5 377.7,60 376.8,65.8 371,71.7 367.7,76.7 368.5,85.8 366,85.8 362.7,78.3 356,77.5 349.3,80.8 346,82.5"/>
<polyline class="b" points="362.7,60 366,66.7 362.7,73.3 364.3,76.7"/>
<polyline class="b" points="346,126.7 349.3,121.7 353.5,118.7 362.7,117.5 368.5,116.7"/>
<polyline class="b" points="373.5,115.8 379.3,106.7 386,105.8 391,94.2 394.3,93 396,95.3 409.3,95 419.3,98.3 417.7,95 420.2,85.8 426,80 432.7,77.5 436,76.7"/>
<polyline class="b" points="387.7,108.3 394.3,100 406,100.8 416,98.3 421,105 426,110 432.7,113.3"/>
<polyline class="b" points="419.3,85.8 424.3,91.7 421.8,98.3 429.3,100 432.7,95 439.3,90 444.3,85.8 446,85"/>
<polyline class="b" points="429.3,100 427.7,106.7 432.7,111.7 439.3,106.7 446,103.3"/>
<polyline class="b" points="429.3,113.3 432.7,120 436.8,125 442.7,120 446,116.7"/>
<polyline class="b" points="426,80 429.3,85.8 436,83.3 439.3,90"/>
<polyline class="b" points="472.7,136.7 477.7,137.5 481.8,135 489.3,130.8 496,127.5 509.3,122.5 519.3,118.7 529.3,116.3 539.3,113.3 549.3,110.8 556,110.3"/>
<polyline class="b" style="stroke-width:2.6" points="496,127.5 494.3,132.5 496,135.8 492.7,140"/>
<polyline class="b" points="446,105 449.3,108.3 447.7,110"/>
<polyline class="b" points="451,116.7 456,123.3 461,128.3 457.7,133.3 454.3,130"/>
<polyline class="b" points="446,85 446.8,90"/>
<polyline class="b" points="62.7,216.7 61.8,202.5 64.3,195 69.3,187.5 77.7,181.7 90,177.5"/>
<polyline class="b" points="62.7,216.7 66,220 71,220.8 76.8,220 74.3,223.3 72.7,230"/>
<polyline class="b" points="46.8,212.5 50.2,215.8 51.8,222.5 55.2,226.7 58.5,227.5 60.2,230"/>
<polyline class="b" points="53.5,180 56,177.5 64.3,175 71.8,173.3 71,175.3 62.7,178 56,180.8 53.5,180"/>
<polyline class="b" points="74.3,172.5 79.3,171.7 90.2,171.3 90.7,173 82.7,174.2 76,175 74.3,172.5"/>
<polyline class="b" points="97.7,170.8 102.7,169.2 108,168.7 107.7,170.3 101,172.5 97.7,170.8"/>
<polyline class="b" points="46.8,185.8 50.2,184.7"/>
<polyline class="b" style="stroke-width:3" points="101,178 103.5,180 101.8,182 105.2,181.3"/>
<polyline class="b" points="68.5,215.8 71,211.7 75.2,211.3 76.8,214.2"/>
<polyline class="b" points="81.8,215.8 84,214.7 86,216.3 83.5,217.7 81.8,215.8"/>
<polyline class="b" style="stroke-width:3" points="61.8,201.7 62.2,203.3"/>
<polyline class="b" points="211,140 209,148.3 208,158.3 207.3,161.7"/>
<polyline class="b" points="217.7,140 222.7,142 232.7,143 236,140.8"/>
<polyline class="b" style="stroke-width:3.8" points="246,143.3 249.3,148.3 254.3,158.3 259.3,163.3 268.5,165.8"/>
<polyline class="b" points="329.3,140 326,145 317.7,150 314.3,156.7 312.7,166.7 306,173.3 311,186.7 321,191.7 331.8,197.5 336,211.7 346,213.3"/>
<polyline class="b" points="336,211.7 325.2,217.5 321.8,230"/>
<polyline class="b" style="stroke-width:3" points="311.8,148.3 312.7,155"/>
<polyline class="b" style="stroke-width:3" points="317.7,158.3 320.2,165"/>
<polyline class="b" style="stroke-width:3.5" points="343.5,149.2 343,160.8"/>
<polyline class="b" points="346,213.3 354.3,217.5 364.3,225 371,228.3 384.3,224.2 394.3,230"/>
<polyline class="b" points="389.7,170.8 391.8,168.3 395.2,167.5 396.8,170 399.3,168.3 401.8,170.8 403.5,174.2 405.7,177.5 404.3,180.8 401.8,183 400.2,180 401.8,177.5 399.3,175.8 397.3,172.5 395.2,170.8 392.7,170 389.7,170.8"/>
<polyline class="b" style="stroke-width:3" points="381.8,157.5 383.5,156.7 381.8,161.7"/>
<polyline class="b" style="stroke-width:3" points="383.5,168.3 385.2,171.7 382.7,176.7"/>
<polyline class="b" style="stroke-width:3" points="396,156.7 399.7,152.5"/>
<polyline class="b" points="406.3,147.5 409,143 411,144.2 408.5,148.3 406.3,147.5"/>
<polyline class="b" style="stroke-width:3" points="423,170.8 426.8,165.8"/>
<polyline class="b" style="stroke-width:2.3" points="475.7,140 476.5,153.3 479,165 481.5,188.3 479,196.7 477.3,205 470.7,210 467.3,213.3 468.2,220 474,225 479,230"/>
<polyline class="b" points="477.3,143.3 480.7,141.7 489.8,140.8 489,148.3 485.7,155 488.2,160.8 489.8,158.3 489,155"/>
<polyline class="b" points="491.5,167.5 493.2,166.7 494,172.5 491.5,176.7 489.3,174.2 491.5,167.5"/>
<polyline class="b" points="502.3,181.7 504,181.7 503.2,191.7 501,190 502.3,181.7"/>
<polyline class="b" points="545.7,170.8 554,175"/>
<polyline class="b" style="stroke-width:3.5" points="454,185 454.8,188.3"/>
<polyline class="b" style="stroke-width:3.5" points="460.7,210.8 461.5,214.2"/>
<polyline class="b" points="454,143.3 464,146.7 472.3,145 475.7,148.3"/>
<polyline class="b" points="464,146.7 470.7,151.7 475.7,152.5"/>
<polyline class="b" points="141,230 136,233.3 127.7,235 126,241.7 129.3,246.7 136,248.3 141,253.3 142.7,263.3 146,264.2"/>
<polyline class="b" points="142.7,263.3 136,270 127.7,274.2 124.3,280 129.3,283.3 128.5,288.3 119.3,292.5 110.2,295.8 100.2,290 96,294.2 90.2,297.5 91,303.3 96,311.7 101.8,320"/>
<polyline class="b" style="stroke-width:2.6" points="73.5,230 74.3,235 81,238.3 85.2,238.3"/>
<polyline class="b" points="74.3,236.7 62.7,245 52.7,253.3 46,256.7"/>
<polyline class="b" style="stroke-width:2.6" points="52.7,253.3 53.5,259.2 57.7,260"/>
<polyline class="b" style="stroke-width:3.5" points="87.7,236.7 92.7,235.3"/>
<polyline class="b" style="stroke-width:3.5" points="48.5,270 50.2,269.2"/>
<polyline class="b" points="46,236.7 51,235 56,231.7 57.7,230"/>
<polyline class="b" style="stroke-width:3" points="49.3,246.7 51,249.2"/>
<polyline class="b" points="146,264.2 157.7,267 160.2,269.7 171.8,265.5 181,269.7 194.3,274.2 204.3,272.5 215.2,270.5 224.3,274.2 237.7,279.2 236,285.8 230.2,291.7 231.8,297.5 246,298.3"/>
<polyline class="b" points="246,308.3 236,305.8 228.5,303.3 226,306.7 228.5,320"/>
<polyline class="b" style="stroke-width:4" points="199.7,244.7 199.8,245.8"/>
<polyline class="b" points="321.8,230 321.8,240 322.7,255 325.2,263.3 324.3,272.5 317.7,281.7 309.3,283.3 308.5,285.8 311.8,288.3 302.7,300 294.3,310 290.2,320"/>
<polyline class="b" points="246,298.3 251.8,298.3 253.5,303.3 249.3,306.7 247.7,310 257.7,319.2 258.5,320"/>
<polyline class="b" points="392.7,230 401,234.2 408.5,238.3 405.2,245 411,253.3 408.5,260 401,261.7 393.5,264.2 390.2,269.2 391.8,276.7 397.7,280.8 409.3,281.7 416,287.5 417.7,294.2 429.3,296.7 434.3,301.7 436,310 437.7,316.7 446,317.5"/>
<polyline class="b" style="stroke-width:3" points="420.2,251.7 423.5,250 424.3,246.7"/>
<polyline class="b" style="stroke-width:2.5" points="387.7,253.8 391.3,253.3 390.2,256.3"/>
<polyline class="b" style="stroke-width:2.4" points="479,230 485.7,235.8 489.8,240.8 489,248.3 486.5,255 487.3,261.7 489.8,265.8 494,267.5 493.2,275 495.7,285 493.2,293.3 489.8,300 494,308.3 495.7,315 494.8,320"/>
<polyline class="b" style="stroke-width:2.6" points="454,312.5 460.7,311.7 467.3,314.2 475.7,316.7 485.7,317.5 494.8,315"/>
<polyline class="b" style="stroke-width:3" points="463.7,262.5 462.7,268.3"/>
<polyline class="b" style="stroke-width:3.5" points="470.7,275.8 470.3,282.5"/>
<polyline class="b" style="stroke-width:3" points="552,288.7 553.7,293"/>
<polyline class="b" points="102.7,320 103.5,328.3 99.3,335.8 96,338.3 95.2,345 99.3,345.8 100.2,343.3"/>
<polyline class="b" points="95.2,345 93.5,350 87.7,354.2 86.8,359.2 90.2,360.8 94.3,361.7 96,365.8 91.8,370 92.7,377.5 99.3,384.2 104.3,386.7 103.5,393.3 101,391.7"/>
<polyline class="b" style="stroke-width:1.5" points="46,323.3 49.3,325 52.7,333.3 58.5,336.7 66,335.8 71,336.7 73.5,342.5 81,345 85.2,348.3 81.8,352.5 81.8,359.2 76.8,366.7 78.5,375 86,375 91.8,374.2"/>
<polyline class="b" points="103.5,393.3 108.5,399.2 116,402.5 127.7,400.8 133.5,397.5 134.3,392.5 141.8,387.5 146,385"/>
<polyline class="b" points="146,384.2 154.3,386.7 162.7,390.8 171,386.7 172.7,378.7 182.7,380.3 194.3,382.5 195.2,374.2 206,364.2 207.7,355 216,345 227.7,330.8 228.5,320"/>
<polyline class="b" points="258.5,320 264.3,323.3 267.7,324.2 266.8,330 264.3,335 271,339.2 276,338.3 275.2,330 276.8,323.3 278.5,320"/>
<polyline class="b" points="276,338.3 279.3,345 280.2,353.3 277.7,361.7 271.8,367.5 276,371.7 278.5,383.3"/>
<polyline class="b" points="278.5,383.3 272.7,393.3 267.7,403.3 261,410"/>
<polyline class="b" points="278.5,383.3 287.7,384.2 289.7,386.7 289.7,395 296,399.2 304.3,403.3 314.3,401.7 321,397.5 326,394.2 336,393.3 346,394.2"/>
<polyline class="b" points="446,377.5 442.7,378.3 439.3,384.2 436,387.5 432.7,384.2 427.7,388.3 425.2,392.5 419.3,394.2 416,398.3 411,399.2 407.7,396.7 404.3,401.7 397.7,401.7 392.7,403.3 388.5,408.3 387.7,410"/>
<polyline class="b" points="346,395 349.3,396.7 354.3,402.5 362.7,400.8 369.3,400.8 374.3,405 376.8,410"/>
<polyline class="b" style="stroke-width:2.4" points="503.2,320 507.3,325 508.2,335 509.8,345 508.2,353.3 504,363.3 499,370"/>
<polyline class="b" points="499,370 495.7,370.8 489.8,368.3 488.2,362.5 484.8,355.8 479,356.7 475.7,355 474,358.3 476.5,361.7 480.7,364.2 475.7,365.8 469,369.2 460.7,373.3 454,376.7 450.7,378.3 446,377.5"/>
<polyline class="b" points="508.2,356.7 515.7,357.5 520.7,360.8 522.3,368.3 525.7,373.3 534,374.2 542.3,376.7 546.5,381.7 554,380.8"/>
<polyline class="b" points="508.2,356.7 508.2,365 504.8,368.3 499,370"/>
<polyline class="b" points="552.7,383.3 554,386.7"/>
<polyline class="b" points="106,410 99.3,413.3 96.8,420 99.3,430 104.3,436.7 111,442.5 116.8,445 114.3,452.5 110.2,458.3 108.5,467.5"/>
<polyline class="b" style="stroke-width:1.5" points="92.7,417.5 87.7,422.5 84.3,431.7 81,438.3 81.8,445 86,451.7 86.8,458.3 85.2,463.3"/>
<polyline class="b" style="stroke-width:1.5" points="46,445.8 51,448.3 56,451.7 61,455 65.2,458.3 68.5,464.2 76,463.3 85.2,463.3 91,468.3 96,469.2 101.8,465.8 108.5,467.5"/>
<polyline class="b" points="108.5,467.5 116,469.2 119.3,475 121.8,480 126,488.3 131,490 132.7,485.8 139.3,488.3 141,492.5 146,492.5"/>
<polyline class="b" points="108.5,467.5 116,466.7 124.3,464.2 132.7,463.3 139.3,460.8 146,457.5"/>
<polyline class="b" points="146,458.3 152.7,463.3 164.3,453.7 176,450.8 186,454.7 194.3,450 201,451.3 201.8,455.8 207.7,461.3 221,454.7 231,460 241,458.3 246,457.5"/>
<polyline class="b" points="146,492.5 152.7,491.7 156.8,489.2 162.7,491.7 167.7,496.7 176,498 181,497.5 185.2,500"/>
<polyline class="b" points="261.8,410 252.7,420 246.8,429.2 249.3,436.7 253.5,448.3 246,455.8"/>
<polyline class="b" points="253.5,448.3 252.7,458.3 257.7,463.3 259.3,470.8 264.3,473.3 278.5,475.8 284.3,486.7 291,500"/>
<polyline class="b" points="373.5,411.7 377.7,415 378.5,421.7 384.3,427.5 391.8,430.8 394.3,436.7 390.2,445.8 388.5,449.2 391,451.7 394.3,455.8 397.7,463.3 401,470.8 406,476.7 413.5,477.5 417.7,483.3 424.3,490.8 432.7,496.7 435.2,500"/>
<polyline class="b" points="373.5,411.7 375.2,410.8 379.3,410"/>
<polyline class="b" points="381,410 383.5,418.3 386.8,410"/>
<polyline class="b" style="stroke-width:3" points="469,460 469.8,466.7"/>
<polyline class="b" points="161,601.7 156,608.3 146,610 142.7,605 137.7,606.7 139.3,611.7 134.3,615 137.7,620 129.3,631.7 124.3,638.3"/>
<polyline class="b" style="stroke-width:3" points="142.7,633.3 147.7,630"/>
<polyline class="b" points="183.5,500 191,502.5 194.3,504.2 190.2,510 189.3,515 181.8,521.7 176,531.7 174.3,538.3 171.8,548.3 166,560 164.3,566.7 166.8,573.3 163.5,581.7 161.8,590"/>
<polyline class="b" points="291.8,500 296,510 294.3,520 291,531.7 295.2,536.7 293.5,539.2 287.7,541.7 284.3,553.3 277.7,568.3 269.3,581.7 261.8,583.3 262.7,590"/>
<polyline class="b" points="433.5,500 436.8,502.5 441,501.7 443.5,505.8 446,507.5"/>
<polyline class="b" points="436,531.7 439.3,530.8 446,532.5"/>
<polyline class="b" points="436,531.7 436.8,540 432.7,547.5 419.3,551.7 409.3,556.7 404.3,563.3 407.7,570 412.7,576.7 414.3,583.3 411.8,590"/>
<polyline class="b" points="446,508.4 450.6,512.1 453.4,518.6 452.5,527.9 448.8,533.5 446,534.4"/>
<polyline class="b" points="453.4,513 460.9,518.6 463.7,526 470.2,529.7 476.7,531.6 482.2,526 492.5,529.7 496.2,520.4 499.9,516.7 505.5,516.7 507.3,501.9 510.1,500"/>
<polyline class="b" points="510.1,500.9 514.8,504.6 522.2,501.9 533.4,507.4 540.8,511.2 546.4,510.2 554,515.8"/>
<polyline class="b" style="stroke-width:2.5" points="461.8,516.7 466.4,520.4 464.6,524.2 471.1,527"/>
<polyline class="b" style="stroke-width:3" points="452.5,576.2 452.5,583.6"/>
<polyline class="b" points="147.5,200 146.5,215 144,224 141,230"/>
<polyline class="b" style="stroke-width:3.5" points="238,140.5 246,143.3"/>
<polyline class="b" style="stroke-width:2.6" points="446,317.5 450,316 454,312.5"/>
<polyline class="b" points="243.5,248.5 247,246.5 250,247 248,249.5 244.5,250.5 243.5,248.5"/>
<polyline class="b" points="214.2,52 215.8,57.5 220,58.3 224.2,56.7 230,59.2 238.3,62.5 241.7,67.5 245.8,66.7 250,64.2 253.3,60 258.3,57.5 261.7,59.2 263.3,56.7"/>
<polyline class="b" points="238.3,62.5 235,66.7 230,73.3 224.2,80.8 221.7,84.2 229.2,89.2 230,93.3 225,95 220.8,94.2 220,90 222.5,87.5"/>
<polyline class="b" points="215,98.3 215.8,104.2 220,107.5 228.3,105.8 224.2,110 225,118.3 229.2,120 230,125 226.7,128.3 230,133.3 231.7,140"/>
<polyline class="b" points="255.8,90 263.3,90.8 266.7,85 275,80"/>
<polyline class="b" points="258.3,58.3 261.7,61.7 266.7,63.3 271.7,67.5 276.7,71.7 277.5,83.3 281.7,90.8 286.7,94.2 296.7,99.2 306.7,103.3 310,105 316.7,103.3 323.3,100 324.2,91.7 328.3,89.2 333.3,92.5 335.8,95.8 333.3,98.3 328.3,99.2 328.3,108.3 328.3,115 321.7,121.7 313.3,125 311.7,130 316.7,131.7 318.3,136.7 315.8,140"/>
<polyline class="b" points="270,94.2 275,92.5 281.7,90.8"/>
<polyline class="b" points="305.8,63.3 308.3,72.5 312.5,71.7 314.2,60 310,56.7 306.7,58.3 305.8,63.3"/>
<polyline class="b" points="321.7,65.8 325,58.3 333.3,54.2 343.3,55 350,53.3"/>
<polyline class="b" points="321.7,65.8 323.3,68.3 333.3,73.3 343.3,80 347.5,83.3 350,80"/>
<polyline class="b" points="286.7,54.2 291.7,60 298.3,65 300,61.7 293.3,56.7 288.3,53.3 286.7,54.2"/>
<polyline class="b" points="295,105.8 297.5,105 299.2,106.7 296.7,107.8 295,105.8"/>
<polyline class="b" style="stroke-width:3" points="292.5,119.2 297.5,120 296.7,122.5 293.3,122 292.5,119.2"/>
<polyline class="b" points="90,177.5 96.7,175.8 106.7,176.3 118.3,174.7"/>
<polyline class="b" points="111.7,161.3 121.7,164.7"/>
<polyline class="b" points="145,152.5 150,151.3 154.7,152 150,153.7 145,152.5"/>
<polyline class="b" points="136.7,178.3 138.3,182.5 143.3,185 148.3,183.3 147.5,200"/>
<polyline class="b" points="148.3,183.3 155,185 158.3,190.8"/>
<polyline class="b" points="188.3,170.8 191.7,169.2 196.7,170 198.3,172.5 195.8,175.8 191.7,175 188.3,170.8"/>
<polyline class="b" points="191.7,169.2 190.8,163.3 187.5,155.8 186.7,150"/>
<polyline class="b" points="196.7,170 199.2,161.7 203.3,160 207.5,161.7 206.7,170 207.5,180"/>
<polyline class="b" points="166,570 164.3,578.3 162.7,588.3 165.2,596.7 166.8,600.8 171,601.7 179.3,600 189.3,599.2 196,596.7 203.5,598.3 210.2,597.5 212.7,595 210.2,593.3 205.2,593.3 204.3,590 209.3,585.8 214.3,585.8 217.7,590 221.8,591.7 227.7,590.8 232.7,591.7 239.3,595 246,597.5"/>
<polyline class="b" points="166.8,600.8 161.8,605 157.7,609.2 151,610 146,607.5"/>
<polyline class="b" points="229.3,589.2 236,585.8 241.8,590 246,593.3"/>
<polyline class="b" style="stroke-width:3" points="232.7,584.2 236.8,586.7"/>
<polyline class="b" style="stroke-width:3" points="209.3,615 212.7,620 217.7,623.3 222.7,624.7 227.7,624.2"/>
<polyline class="b" style="stroke-width:3" points="190.2,627.5 192.7,630.8"/>
<polyline class="b" style="stroke-width:3" points="206.8,627.5 207.7,634.2"/>
<polyline class="b" style="stroke-width:3" points="199.3,636.7 205.2,638.3"/>
<polyline class="b" style="stroke-width:3" points="236,630.3 244.3,631.3"/>
<polyline class="b" style="stroke-width:3" points="146,635 148.5,630.8"/>
<polyline class="b" points="276.8,570 269.3,580.8 261.8,583.3 264.3,601.7 260.2,605.8 261.8,610 258.5,616.7 254.3,620.8 253.5,628.3 255.2,635 262.7,636.7 271,638.3"/>
<polyline class="b" points="246,594.2 251,596.7 256,600 262.7,602.5 260.2,605.8"/>
<polyline class="b" points="246,597.5 252.7,602.5 259.3,605.8"/>
<polyline class="b" points="248.5,595 254.3,597.5 258.5,601.7"/>
<polyline class="b" points="264.3,601.7 267.7,599.2 272.7,600.8 279.3,605.8 284.3,610 286,613.3 281.8,612.5 281,615 283.5,614.2"/>
<polyline class="b" points="286,613.3 285.2,620 290.2,620 294.3,616.7 297.7,610 298.5,605.8 296.8,600 301,602.5 308.5,601.7 312.7,600"/>
<polyline class="b" points="321,610.8 327.7,612.5 336,611.7 338.5,609.2"/>
<polyline class="b" points="253.5,628.3 258.5,625 257.7,634.2"/>
<polyline class="b" points="407.7,570 411.8,575 415.2,581.7 412.7,587.5 411,590"/>
<polyline class="b" style="stroke-width:2.5" points="386,580 389.7,576.3 393.5,577.5 393,580.8 388.5,582.5 386,580"/>
<polyline class="b" style="stroke-width:3" points="403.5,572.5 405.2,575.8"/>
<polyline class="b" style="stroke-width:3" points="431,581.7 436,585 439.3,580 441.8,575"/>
<polyline class="b" style="stroke-width:3" points="432.7,586.7 436.8,589.7"/>
<polyline class="b" points="362.7,638.3 367.7,635 377.7,633 379.3,635.8 374.3,638 367.7,638.7 362.7,638.3"/>
<polyline class="b" points="346,638.7 352.7,638.3"/>
<polyline class="b" style="stroke-width:3" points="445,214.5 448.5,212"/>
</g>
<circle class="c" cx="372.7" cy="116.9" r="4.4"/>
<circle class="c" cx="276.2" cy="159.8" r="4.4"/>
<circle class="c" cx="222" cy="204.2" r="4.4"/>
<circle class="c" cx="262.3" cy="248.9" r="4.4"/>
<circle class="c" cx="430.3" cy="248.8" r="4.4"/>
<circle class="c" cx="349.8" cy="276.8" r="4.4"/>
<circle class="c" cx="475.8" cy="299.8" r="4.4"/>
<circle class="c" cx="151" cy="322.5" r="4.4"/>
<circle class="c" cx="274.6" cy="320.7" r="4.4"/>
<circle class="c" cx="390.3" cy="335" r="4.4"/>
<circle class="c" cx="450" cy="348.2" r="4.4"/>
<circle class="c" cx="321" cy="360" r="4.4"/>
<circle class="c" cx="211.9" cy="426.8" r="4.4"/>
<circle class="c" cx="326" cy="465.8" r="4.4"/>
<circle class="c" cx="240.2" cy="513.4" r="4.4"/>
<circle class="c" cx="348" cy="560" r="4.4"/>
<circle class="c" cx="176.9" cy="569.3" r="4.4"/>
<text class="l" x="374.2" y="117.1">Rostock</text>
<text class="l" x="277.2" y="160.3">Hamburg</text>
<text class="l" x="221.6" y="204.2">Bremen</text>
<text class="l" x="262.6" y="248.8">Hannover</text>
<text class="l" x="430.1" y="249">Berlin</text>
<text class="l" x="350.8" y="277">Magdeburg</text>
<text class="l" x="477.5" y="300">Cottbus</text>
<text class="l" x="152" y="322.7">Bochum</text>
<text class="l" x="275.6" y="320.9">Goettingen</text>
<text class="l" x="391.3" y="335.2">Leipzig</text>
<text class="l" x="451" y="348.4">Dresden</text>
<text class="l" x="322" y="360.2">Erfurt</text>
<text class="l" x="212.9" y="427">Frankfurt-Main</text>
<text class="l" x="327" y="466">Nuernberg</text>
<text class="l" x="240" y="513.6">Stuttgart</text>
<text class="l" x="349" y="560.2">Muenchen</text>
<text class="l" x="177.9" y="569.5">Freiburg</text>
<rect x="46" y="51" width="508" height="589" fill="none" stroke="#000" stroke-width="1.5"/>
<rect x="62.5" y="69.5" width="80" height="32" fill="#d3d3d3" fill-opacity="0.5" stroke="#65747a" stroke-width="1.5"/>
<text x="70.3" y="90.9" font-size="20.2px"><tspan font-family="DejaVu Sans,sans-serif" font-size="18px" dy="0.6">∅</tspan><tspan dy="-0.6" dx="-1"> 21.8</tspan></text>
<text x="300.3" y="42.4" font-size="26.7px" text-anchor="middle">1964-1964 (ja)</text>
<rect x="69.5" y="669.5" width="77.1" height="28.5" fill="#eeeeab"/>
<rect x="146.3" y="669.5" width="77.2" height="28.5" fill="#e6bf19"/>
<rect x="223.2" y="669.5" width="77.1" height="28.5" fill="#ee6b0c"/>
<rect x="300" y="669.5" width="77.1" height="28.5" fill="#ba3762"/>
<rect x="376.8" y="669.5" width="77.2" height="28.5" fill="#4c26be"/>
<rect x="453.7" y="669.5" width="77.1" height="28.5" fill="#191954"/>
<polygon points="69.5,669.5 46.5,683.8 69.5,698" fill="#fff"/>
<polygon points="530.5,669.5 553.6,683.8 530.5,698" fill="#000"/>
<polygon points="69.5,669.5 46.5,683.8 69.5,698 530.5,698 554,683.8 530.5,669.5" fill="none" stroke="#000" stroke-width="1.4" stroke-linejoin="miter"/>
<line x1="69.5" y1="669.5" x2="69.5" y2="698" stroke="#000" stroke-width="1.2"/>
<line x1="146.3" y1="669.5" x2="146.3" y2="698" stroke="#000" stroke-width="1.2"/>
<line x1="223.2" y1="669.5" x2="223.2" y2="698" stroke="#000" stroke-width="1.2"/>
<line x1="300" y1="669.5" x2="300" y2="698" stroke="#000" stroke-width="1.2"/>
<line x1="376.8" y1="669.5" x2="376.8" y2="698" stroke="#000" stroke-width="1.2"/>
<line x1="453.7" y1="669.5" x2="453.7" y2="698" stroke="#000" stroke-width="1.2"/>
<line x1="530.5" y1="669.5" x2="530.5" y2="698" stroke="#000" stroke-width="1.2"/>
<text x="69.5" y="719.9" font-size="18.8px" text-anchor="middle">16</text>
<text x="146.3" y="719.9" font-size="18.8px" text-anchor="middle">18</text>
<text x="223.2" y="719.9" font-size="18.8px" text-anchor="middle">20</text>
<text x="300" y="719.9" font-size="18.8px" text-anchor="middle">22</text>
<text x="376.8" y="719.9" font-size="18.8px" text-anchor="middle">24</text>
<text x="453.7" y="719.9" font-size="18.8px" text-anchor="middle">26</text>
<text x="530.5" y="719.9" font-size="18.8px" text-anchor="middle">28</text>
<text x="300.3" y="750" font-size="23.5px" text-anchor="middle">wmax99 [m/s]</text>
</svg></body></html>
